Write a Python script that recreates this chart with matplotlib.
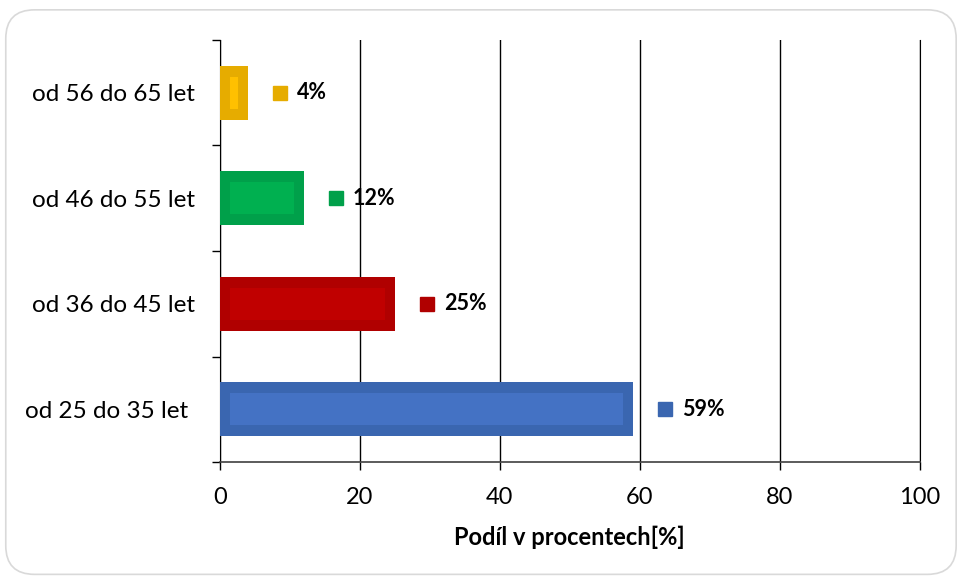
import matplotlib.pyplot as plt
from matplotlib.patches import FancyBboxPatch

categories = ['od 25 do 35 let ', 'od 36 do 45 let', 'od 46 do 55 let', 'od 56 do 65 let']
values = [59, 25, 12, 4]
outer_colors = ['#3A66B0', '#B00000', '#00A04A', '#E6AC00']
inner_colors = ['#4472C4', '#C00000', '#00B050', '#FFC000']
xticks = [0, 20, 40, 60, 80, 100]
xlabel = 'Podíl v procentech[%]'

plt.rcParams['font.family'] = ['Lato', 'DejaVu Sans']

fig = plt.figure(figsize=(9.6, 5.79), dpi=100)
frame = FancyBboxPatch((0.006, 0.008), 0.99, 0.975,
                       boxstyle='round,pad=0,rounding_size=0.03',
                       transform=fig.transFigure, facecolor='white',
                       edgecolor='#D9D9D9', linewidth=1.2,
                       mutation_aspect=960 / 579, zorder=-5)
fig.patches.append(frame)
ax = fig.add_axes([0.229, 0.202, 0.729, 0.729])
ax.set_facecolor('none')

pos = range(len(categories))
ax.barh(pos, values, height=0.51, color=outer_colors, zorder=3)
# lighter inner panel of each bar
dx = 10 / 7.0
inner_w = [max(v - 2 * dx, 0) for v in values]
ax.barh(pos, inner_w, left=dx, height=0.30, color=inner_colors, zorder=4)

for i, v in enumerate(values):
    ax.plot(v + 4.6, i, marker='s', markersize=9.5, color=outer_colors[i],
            linestyle='none', zorder=5, clip_on=False)
    ax.text(v + 7.0, i, f'{v}%', va='center', ha='left', fontsize=15.5,
            fontweight='bold', zorder=5)

ax.set_xlim(0, 100)
ax.set_ylim(-0.5, 3.5)
ax.set_xticks(xticks)
ax.set_xticklabels([str(t) for t in xticks], fontsize=17)
ax.set_yticks(list(pos))
ax.set_yticklabels(categories, fontsize=17.5)
ax.set_yticks([-0.5, 0.5, 1.5, 2.5, 3.5], minor=True)
ax.tick_params(axis='y', which='major', length=0, pad=18)
ax.tick_params(axis='y', which='minor', length=6, width=1, color='black')
ax.tick_params(axis='x', length=6, width=1, color='black', pad=12)
ax.grid(axis='x', color='black', linewidth=1, zorder=0)

ax.spines['top'].set_visible(False)
ax.spines['right'].set_color('black')
ax.spines['left'].set_color('black')
ax.spines['bottom'].set_color('#404040')
ax.spines['bottom'].set_linewidth(1.2)

ax.set_xlabel(xlabel, fontsize=17, fontweight='bold', labelpad=13)

fig.savefig('out.png', dpi=100)
